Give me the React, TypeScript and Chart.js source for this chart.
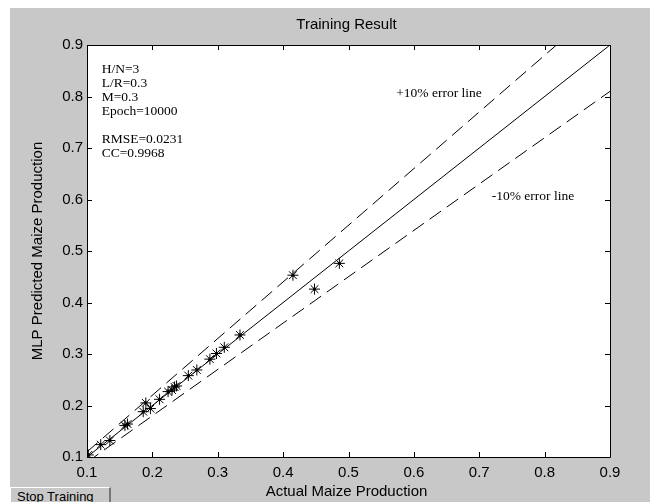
import React, { useEffect, useRef } from "react";
import { Chart, registerables } from "chart.js";

Chart.register(...registerables);

// Data
const actualProduction = [0.102, 0.121, 0.135, 0.158, 0.162, 0.186, 0.190, 0.197, 0.211, 0.224, 0.230, 0.234, 0.237, 0.255, 0.268, 0.288, 0.298, 0.310, 0.334, 0.415, 0.448, 0.486];
const predictedProduction = [0.104, 0.124, 0.132, 0.161, 0.164, 0.188, 0.205, 0.194, 0.212, 0.227, 0.230, 0.236, 0.238, 0.258, 0.269, 0.290, 0.301, 0.313, 0.337, 0.453, 0.426, 0.476];

// Reference lines (x at ends, y values)
const refLineX = [0.1, 0.9];
const perfectLineY = [0.1, 0.9];
const upperLineY = [0.11, 0.99];
const lowerLineY = [0.09, 0.81];

const tickValues = [0.1, 0.2, 0.3, 0.4, 0.5, 0.6, 0.7, 0.8, 0.9];
const tickLabels = ["0.1", "0.2", "0.3", "0.4", "0.5", "0.6", "0.7", "0.8", "0.9"];

const titleText = "Training Result";
const xTitle = "Actual Maize Production";
const yTitle = "MLP Predicted Maize Production";

const infoLines = ["H/N=3", "L/R=0.3", "M=0.3", "Epoch=10000", "", "RMSE=0.0231", "CC=0.9968"];
const infoAnchor = { x: 0.1225, y: 0.852 };
const upperLabel = { text: "+10% error line", x: 0.573, y: 0.806 };
const lowerLabel = { text: "-10% error line", x: 0.719, y: 0.605 };

const SANS = '"Liberation Sans", Arial, sans-serif';
const SERIF = '"Liberation Serif", "Times New Roman", serif';

const decorPlugin = {
  id: "decor",
  afterDraw(chart: any) {
    const ctx = chart.ctx;
    const { left, right, top, bottom } = chart.chartArea;
    const xs = chart.scales.x;
    const ys = chart.scales.y;
    ctx.save();
    // box
    ctx.strokeStyle = "#000";
    ctx.lineWidth = 1;
    ctx.beginPath();
    ctx.rect(Math.round(left) + 0.5, Math.round(top) + 0.5, Math.round(right - left), Math.round(bottom - top));
    ctx.stroke();
    // inward ticks on all sides
    const tl = 5;
    ctx.beginPath();
    tickValues.forEach((v) => {
      const px = Math.round(xs.getPixelForValue(v)) + 0.5;
      ctx.moveTo(px, bottom);
      ctx.lineTo(px, bottom - tl);
      ctx.moveTo(px, top);
      ctx.lineTo(px, top + tl);
      const py = Math.round(ys.getPixelForValue(v)) + 0.5;
      ctx.moveTo(left, py);
      ctx.lineTo(left + tl, py);
      ctx.moveTo(right, py);
      ctx.lineTo(right - tl, py);
    });
    ctx.stroke();

    const cx = (left + right) / 2 - 2;
    // title
    ctx.fillStyle = "#000";
    ctx.font = `15px ${SANS}`;
    ctx.textAlign = "center";
    ctx.textBaseline = "middle";
    ctx.fillText(titleText, cx, 17);
    // x title
    ctx.fillText(xTitle, cx, 483.5);
    // y title
    ctx.save();
    ctx.translate(27.5, (top + bottom) / 2);
    ctx.rotate(-Math.PI / 2);
    ctx.fillText(yTitle, 0, 0);
    ctx.restore();

    // annotations
    ctx.font = `13.5px ${SERIF}`;
    ctx.textAlign = "left";
    ctx.textBaseline = "middle";
    const ix = xs.getPixelForValue(infoAnchor.x);
    const iy = ys.getPixelForValue(infoAnchor.y);
    infoLines.forEach((t, i) => {
      if (t) ctx.fillText(t, ix, iy + i * 13.9);
    });
    ctx.fillText(upperLabel.text, xs.getPixelForValue(upperLabel.x), ys.getPixelForValue(upperLabel.y));
    ctx.fillText(lowerLabel.text, xs.getPixelForValue(lowerLabel.x), ys.getPixelForValue(lowerLabel.y));
    ctx.restore();
  },
};

function ChartCanvas() {
  const ref = useRef<HTMLCanvasElement | null>(null);
  useEffect(() => {
    if (!ref.current) return;
    const pts = actualProduction.map((x, i) => ({ x, y: predictedProduction[i] }));
    const line = (ys: number[]) => refLineX.map((x, i) => ({ x, y: ys[i] }));
    const chart = new Chart(ref.current, {
      type: "scatter",
      data: {
        datasets: [
          {
            type: "line",
            data: line(perfectLineY),
            borderColor: "#000",
            borderWidth: 1,
            pointRadius: 0,
            showLine: true,
          } as any,
          {
            type: "line",
            data: line(upperLineY),
            borderColor: "#000",
            borderWidth: 1,
            borderDash: [14, 7],
            pointRadius: 0,
            showLine: true,
          } as any,
          {
            type: "line",
            data: line(lowerLineY),
            borderColor: "#000",
            borderWidth: 1,
            borderDash: [14, 7],
            pointRadius: 0,
            showLine: true,
          } as any,
          {
            data: pts,
            pointStyle: "star",
            pointRadius: 5.5,
            borderColor: "#000",
            borderWidth: 1,
            backgroundColor: "#000",
          },
          {
            data: pts,
            pointStyle: "circle",
            pointRadius: 1.6,
            borderWidth: 0,
            backgroundColor: "#000",
          },
        ],
      },
      options: {
        animation: false,
        responsive: false,
        maintainAspectRatio: false,
        layout: { padding: { top: 37, right: 40, left: 0, bottom: 0 } },
        plugins: { legend: { display: false }, tooltip: { enabled: false }, title: { display: false } },
        scales: {
          x: {
            type: "linear",
            min: 0.1,
            max: 0.9,
            grid: { display: false, drawTicks: false },
            border: { display: false },
            afterBuildTicks: (s: any) => {
              s.ticks = tickValues.map((v) => ({ value: v }));
            },
            afterFit: (s: any) => {
              s.height = 45;
            },
            ticks: {
              color: "#000",
              font: { family: SANS, size: 15 },
              padding: 7,
              maxRotation: 0,
              autoSkip: false,
              callback: (_v: any, i: number) => tickLabels[i],
            },
          },
          y: {
            type: "linear",
            min: 0.1,
            max: 0.9,
            grid: { display: false, drawTicks: false },
            border: { display: false },
            afterBuildTicks: (s: any) => {
              s.ticks = tickValues.map((v) => ({ value: v }));
            },
            afterFit: (s: any) => {
              s.width = 77;
            },
            ticks: {
              color: "#000",
              font: { family: SANS, size: 15 },
              padding: 4,
              autoSkip: false,
              callback: (_v: any, i: number) => tickLabels[i],
            },
          },
        },
      } as any,
      plugins: [
        {
          id: "whiteArea",
          beforeDraw(c: any) {
            const { left, right, top, bottom } = c.chartArea;
            c.ctx.save();
            c.ctx.fillStyle = "#fff";
            c.ctx.fillRect(left, top, right - left, bottom - top);
            c.ctx.restore();
          },
        },
        decorPlugin,
      ],
    });
    return () => chart.destroy();
  }, []);
  return <canvas ref={ref} width={640} height={494} style={{ display: "block", width: 640, height: 494 }} />;
}

export default function App() {
  return (
    <div style={{ position: "fixed", left: 0, top: 0, width: 650, height: 502, background: "#fff", overflow: "hidden" }}>
      <div style={{ position: "absolute", left: 10, top: 8, width: 640, height: 494, background: "rgb(200,200,200)" }}>
        <ChartCanvas />
        <div
          style={{
            position: "absolute",
            left: 0,
            top: 479,
            width: 92,
            height: 20,
            background: "rgb(200,200,200)",
            borderTop: "1px solid #fff",
            borderLeft: "1px solid #fff",
            borderRight: "2px solid #777",
            font: `13px ${SANS}`,
            color: "#000",
            paddingLeft: 6,
            lineHeight: "17px",
            boxSizing: "content-box",
          }}
        >
          Stop Training
        </div>
      </div>
    </div>
  );
}
